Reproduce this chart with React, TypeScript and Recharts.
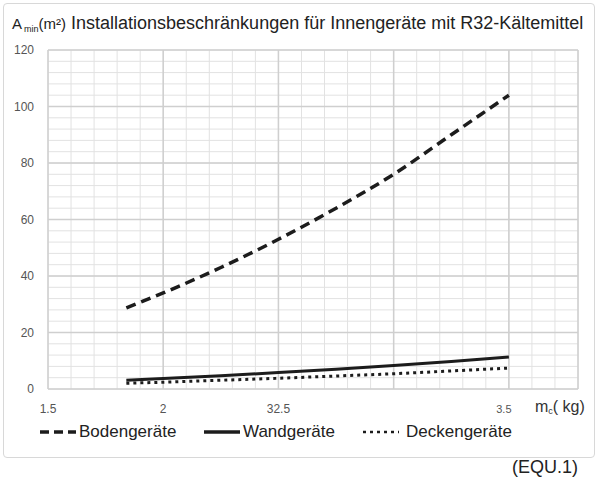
import { LineChart, Line, XAxis, YAxis, CartesianGrid } from "recharts";

// refrigerant charge m_c (kg)
const charges = [1.84, 2, 2.25, 2.5, 2.75, 3, 3.25, 3.5];
// minimum room area A_min (m²)
const bodenValues = [28.7, 34, 43, 53, 64, 76, 90, 104];
const wandValues = [3.1, 3.7, 4.7, 5.8, 7.0, 8.3, 9.7, 11.3];
const deckenValues = [2.05, 2.4, 3.1, 3.8, 4.6, 5.4, 6.4, 7.4];

const xTicks = [1.5, 2, 2.5, 3, 3.5];
const xTickLabels = ["1.5", "2", "32.5", "", "3.5"];
const yTicks = [0, 20, 40, 60, 80, 100, 120];

const chartData = charges.map((m, i) => ({
  m,
  boden: bodenValues[i],
  wand: wandValues[i],
  decken: deckenValues[i],
}));

// minor grid every 0.1 kg and 4 m²
const minorX: number[] = [];
for (let i = 0; i <= 23; i++) minorX.push(+(1.5 + i * 0.1).toFixed(2));
const minorY: number[] = [];
for (let i = 0; i <= 30; i++) minorY.push(i * 4);

const SERIES = [
  { key: "boden", name: "Bodengeräte", dash: "10 6", width: 3.5 },
  { key: "wand", name: "Wandgeräte", dash: undefined, width: 3 },
  { key: "decken", name: "Deckengeräte", dash: "3 4", width: 3 },
];

const LINE_COLOR = "#1c1c1c";
const FONT = "'Liberation Sans', Arial, sans-serif";

function XTick(props: any) {
  const { x, y, index } = props;
  const label = xTickLabels[index] ?? "";
  const small = label === "3.5";
  return (
    <text
      x={small ? x - 5 : x}
      y={y}
      dy={4}
      textAnchor="middle"
      fontFamily={FONT}
      fontSize={small ? 11 : 12}
      fill="#555"
    >
      {label}
    </text>
  );
}

function YTick(props: any) {
  const { x, y, payload } = props;
  return (
    <text
      x={x}
      y={y}
      dy={4}
      textAnchor="end"
      fontFamily={FONT}
      fontSize={12}
      fill="#555"
    >
      {payload.value}
    </text>
  );
}

function ChartLegend() {
  const items = [
    { name: "Bodengeräte", dash: "9 5", left: 40, gap: 1 },
    { name: "Wandgeräte", dash: undefined, left: 204, gap: 1 },
    { name: "Deckengeräte", dash: "3 4", left: 363, gap: 5 },
  ];
  return (
    <div style={{ position: "absolute", left: 0, top: 422, width: 598, height: 24 }}>
      {items.map((it) => (
        <div
          key={it.name}
          style={{
            position: "absolute",
            left: it.left,
            top: 0,
            display: "flex",
            alignItems: "center",
            fontFamily: FONT,
            fontSize: 17,
            color: "#222",
          }}
        >
          <svg width={38} height={20}>
            <line
              x1={0}
              y1={10}
              x2={36}
              y2={10}
              stroke={LINE_COLOR}
              strokeWidth={it.dash === "3 4" ? 2.5 : 3.5}
              strokeDasharray={it.dash}
            />
          </svg>
          <span style={{ marginLeft: it.gap }}>{it.name}</span>
        </div>
      ))}
    </div>
  );
}

export default function App() {
  return (
    <div
      style={{
        position: "absolute",
        left: 0,
        top: 0,
        width: 598,
        height: 482,
        background: "#fff",
        overflow: "hidden",
      }}
    >
      <div
        style={{
          position: "absolute",
          left: 3,
          top: 3,
          width: 590,
          height: 453,
          border: "1px solid #d8d8d8",
          borderRadius: 4,
        }}
      />
      <div
        style={{
          position: "absolute",
          left: 12,
          top: 13,
          fontFamily: FONT,
          color: "#222",
          whiteSpace: "nowrap",
        }}
      >
        <span style={{ fontSize: 15 }}>A</span>
        <span style={{ fontSize: 9, verticalAlign: "-3px", marginLeft: 2 }}>min</span>
        <span style={{ fontSize: 15 }}>(m²)</span>
        <span style={{ fontSize: 18, marginLeft: 5 }}>
          Installationsbeschränkungen für Innengeräte mit R32-Kältemittel
        </span>
      </div>
      <LineChart
        width={598}
        height={482}
        data={chartData}
        margin={{ top: 50, right: 20, bottom: 63, left: 8 }}
        style={{ position: "absolute", left: 0, top: 0 }}
      >
        <CartesianGrid
          stroke="#e2e2e2"
          strokeWidth={1}
          verticalValues={minorX}
          horizontalValues={minorY}
        />
        <CartesianGrid
          stroke="#cfcfcf"
          strokeWidth={1.5}
          verticalValues={[1.5, 2, 2.5, 3, 3.5, 3.8]}
          horizontalValues={yTicks}
        />
        <XAxis
          dataKey="m"
          type="number"
          domain={[1.5, 3.8]}
          ticks={xTicks}
          interval={0}
          axisLine={false}
          tickLine={false}
          height={30}
          tickMargin={14}
          tick={<XTick />}
        />
        <YAxis
          type="number"
          domain={[0, 120]}
          ticks={yTicks}
          interval={0}
          axisLine={false}
          tickLine={false}
          width={40}
          tickMargin={8}
          tick={<YTick />}
        />
        {SERIES.map((s) => (
          <Line
            key={s.key}
            type="monotone"
            dataKey={s.key}
            name={s.name}
            stroke={LINE_COLOR}
            strokeWidth={s.width}
            strokeDasharray={s.dash}
            dot={false}
            isAnimationActive={false}
          />
        ))}
      </LineChart>
      <ChartLegend />
      <div
        style={{
          position: "absolute",
          left: 535,
          top: 398,
          fontFamily: FONT,
          fontSize: 16,
          color: "#333",
          whiteSpace: "nowrap",
        }}
      >
        m<span style={{ fontSize: 9, verticalAlign: "-2px" }}>c</span>( kg)
      </div>
      <div
        style={{
          position: "absolute",
          left: 512,
          top: 457,
          fontFamily: FONT,
          fontSize: 18,
          color: "#222",
        }}
      >
        (EQU.1)
      </div>
    </div>
  );
}
